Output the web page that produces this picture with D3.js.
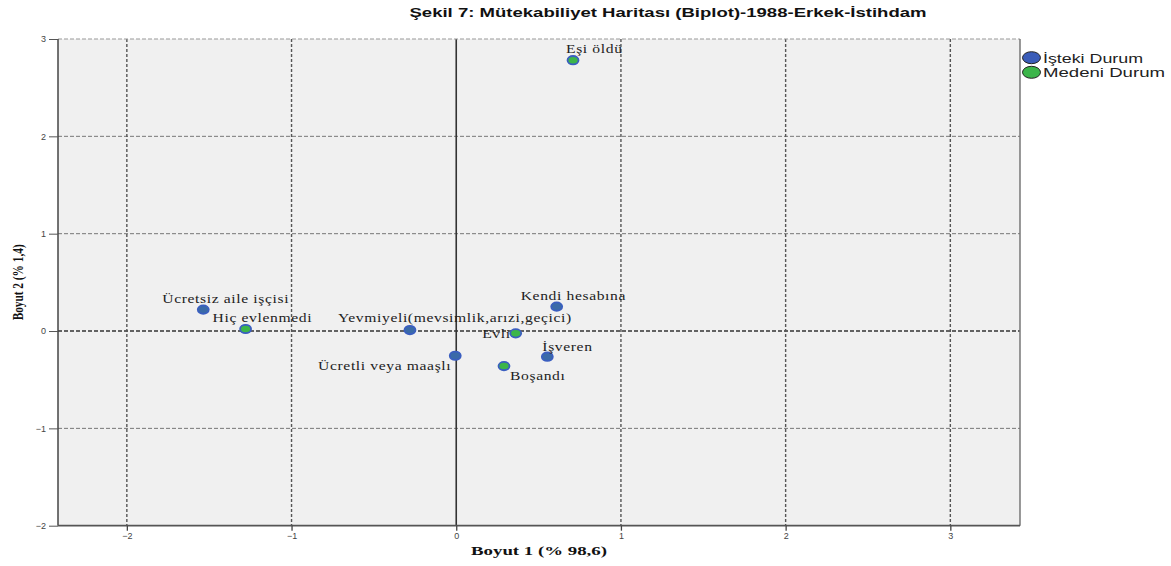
<!DOCTYPE html>
<html><head><meta charset="utf-8">
<script src="https://cdn.jsdelivr.net/npm/d3@7/dist/d3.min.js"></script>
<style>
body{margin:0;background:#fff;}
svg{display:block;}
</style></head>
<body>
<svg id="chart" width="1171" height="566"></svg>
<script>
// ---- data ----
const categories = ["Eşi öldü","Kendi hesabına","Ücretsiz aile işçisi","Hiç evlenmedi","Yevmiyeli(mevsimlik,arızi,geçici)","Ücretli veya maaşlı","Evli","İşveren","Boşandı"];
const groups = ["Medeni Durum","İşteki Durum","İşteki Durum","Medeni Durum","İşteki Durum","İşteki Durum","Medeni Durum","İşteki Durum","Medeni Durum"];
const dim1 = [0.709, 0.610, -1.536, -1.279, -0.281, -0.006, 0.361, 0.553, 0.290];
const dim2 = [2.782, 0.251, 0.220, 0.021, 0.010, -0.254, -0.024, -0.264, -0.360];
const xTicks = [-2, -1, 0, 1, 2, 3];
const yTicks = [-2, -1, 0, 1, 2, 3];
const legendItems = ["İşteki Durum", "Medeni Durum"];
const titleText = "Şekil 7: Mütekabiliyet Haritası (Biplot)-1988-Erkek-İstihdam";
const xTitle = "Boyut 1 (% 98,6)";
const yTitle = "Boyut 2 (% 1,4)";

// ---- layout (label placement relative to each point) ----
const labelPlace = [
  {dx:-7, dy:-12, a:"start"},
  {dx:-36, dy:-11, a:"start"},
  {dx:-41, dy:-11, a:"start"},
  {dx:-33, dy:-11, a:"start"},
  {dx:-72, dy:-12, a:"start"},
  {dx:-4, dy:10, a:"end"},
  {dx:-5, dy:0, a:"end"},
  {dx:-5, dy:-10, a:"start"},
  {dx:6, dy:10, a:"start"}
];

const svg = d3.select("#chart");
const L = 58, R = 1020, T = 39, B = 525.7;
const x = d3.scaleLinear().domain([-2.418, 3.423]).range([L, R]);
const y = d3.scaleLinear().domain([-2, 3]).range([B, T]);
const color = d3.scaleOrdinal().domain(legendItems).range(["#3a5cb8", "#3cb54a"]);

// background
svg.append("rect").attr("x", L).attr("y", T).attr("width", R - L).attr("height", B - T)
  .attr("fill", "#f0f0f0");

// horizontal gridlines
svg.append("g").selectAll("line").data(yTicks.filter(d => d !== -2 && d !== 3)).join("line")
  .attr("x1", L).attr("x2", R).attr("y1", d => y(d)).attr("y2", d => y(d))
  .attr("stroke", d => d === 0 ? "#333" : "#777").attr("stroke-width", d => d === 0 ? 1.3 : 1)
  .attr("stroke-dasharray", "4,2");
// vertical gridlines
svg.append("g").selectAll("line").data(xTicks.filter(d => d !== 0)).join("line")
  .attr("y1", T).attr("y2", B).attr("x1", d => x(d)).attr("x2", d => x(d))
  .attr("stroke", "#555").attr("stroke-width", 1.4).attr("stroke-dasharray", "3,2");
// zero vertical line solid
svg.append("line").attr("x1", x(0)).attr("x2", x(0)).attr("y1", T).attr("y2", B)
  .attr("stroke", "#333").attr("stroke-width", 1.6);

// frame
svg.append("line").attr("x1", L).attr("x2", R).attr("y1", T).attr("y2", T).attr("stroke", "#999").attr("stroke-width", 1).attr("stroke-dasharray","4,2");
svg.append("line").attr("x1", R).attr("x2", R).attr("y1", T).attr("y2", B).attr("stroke", "#777").attr("stroke-width", 1.5);
svg.append("line").attr("x1", L).attr("x2", L).attr("y1", T).attr("y2", B).attr("stroke", "#444").attr("stroke-width", 1.5);
svg.append("line").attr("x1", L).attr("x2", R).attr("y1", B).attr("y2", B).attr("stroke", "#555").attr("stroke-width", 1.8);

// axes
const xAxis = d3.axisBottom(x).tickValues(xTicks).tickSize(5).tickPadding(2).tickFormat(d3.format("d"));
const gx = svg.append("g").attr("transform", `translate(0,${B})`).call(xAxis);
gx.select(".domain").remove();
gx.selectAll(".tick line").attr("stroke", "#444").attr("stroke-width", 1.3);
gx.selectAll(".tick text").attr("fill", "#444").style("font-family", "Liberation Sans, Arial, sans-serif").style("font-size", "9px");

const yAxis = d3.axisLeft(y).tickValues(yTicks).tickSize(9).tickPadding(3).tickFormat(d3.format("d"));
const gy = svg.append("g").attr("transform", `translate(${L},0)`).call(yAxis);
gy.select(".domain").remove();
gy.selectAll(".tick line").attr("stroke", "#555").attr("stroke-width", 1);
gy.selectAll(".tick text").attr("fill", "#444").style("font-family", "Liberation Sans, Arial, sans-serif").style("font-size", "9px");

// axis titles
svg.append("text").attr("x", (L + R) / 2).attr("y", 555).attr("text-anchor", "middle")
  .style("font-family", "Liberation Serif, Times New Roman, serif").style("font-weight", "bold").style("font-size", "13.5px")
  .attr("textLength", 136).attr("lengthAdjust", "spacingAndGlyphs")
  .attr("fill", "#111").text(xTitle);
svg.append("text").attr("transform", `translate(23,${(T + B) / 2}) rotate(-90)`).attr("text-anchor", "middle")
  .style("font-family", "Liberation Serif, Times New Roman, serif").style("font-weight", "bold").style("font-size", "14.5px")
  .attr("textLength", 76).attr("lengthAdjust", "spacingAndGlyphs")
  .attr("fill", "#111").text(yTitle);

// title
svg.append("text").attr("x", 668).attr("y", 17).attr("text-anchor", "middle")
  .style("font-family", "Liberation Sans, Arial, sans-serif").style("font-weight", "bold").style("font-size", "12.5px")
  .attr("textLength", 517).attr("lengthAdjust", "spacingAndGlyphs")
  .attr("fill", "#111").text(titleText);

// points
const pts = categories.map((c, i) => ({c, g: groups[i], x: dim1[i], y: dim2[i], p: labelPlace[i]}));
svg.append("g").selectAll("ellipse").data(pts).join("ellipse")
  .attr("cx", d => x(d.x)).attr("cy", d => y(d.y)).attr("rx", 5.5).attr("ry", 4.2)
  .attr("fill", d => d.g === "İşteki Durum" ? "#3a6aa8" : "#3cb54a")
  .attr("stroke", "#3a5ec0").attr("stroke-width", 1.8);

// labels (horizontally stretched serif, like the reference)
svg.append("g").selectAll("text").data(pts).join("text")
  .attr("transform", d => `translate(${x(d.x) + d.p.dx},${y(d.y) + d.p.dy}) scale(1.25,1)`)
  .attr("dy", "0.35em")
  .attr("text-anchor", d => d.p.a)
  .style("font-family", "Liberation Serif, Times New Roman, serif").style("font-size", "12.5px")
  .style("letter-spacing", "0.5px")
  .attr("fill", "#222").text(d => d.c);

// legend
const lg = svg.append("g");
const legendW = [100, 122];
legendItems.forEach((item, i) => {
  const cy = 57.7 + i * 14.6;
  lg.append("ellipse").attr("cx", 1031.5).attr("cy", cy).attr("rx", 9).attr("ry", 6)
    .attr("fill", color(item)).attr("stroke", "#222").attr("stroke-width", 1);
  lg.append("text").attr("x", 1043).attr("y", cy).attr("dy", "0.36em")
    .style("font-family", "Liberation Sans, Arial, sans-serif").style("font-size", "13.5px")
    .attr("textLength", legendW[i]).attr("lengthAdjust", "spacingAndGlyphs")
    .attr("fill", "#222").text(item);
});
</script>
</body></html>
